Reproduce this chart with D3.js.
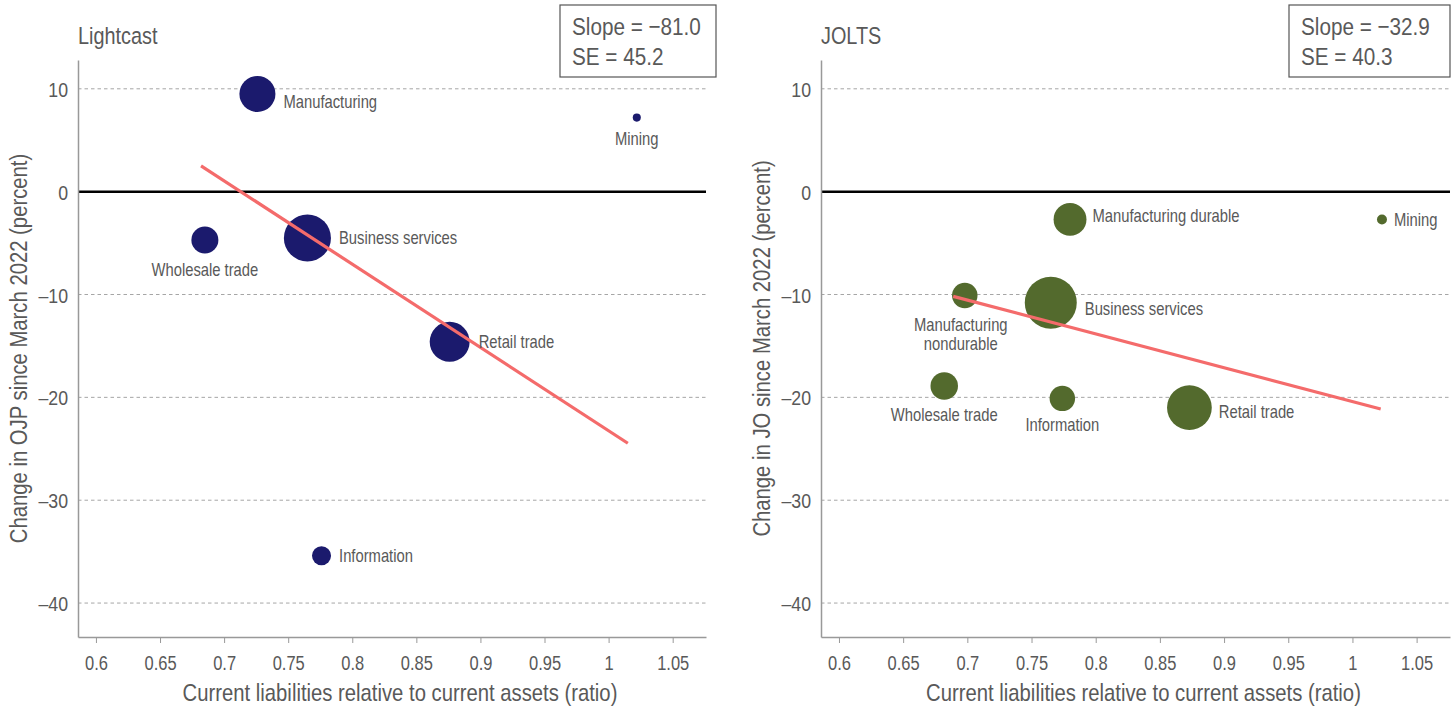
<!DOCTYPE html>
<html>
<head>
<meta charset="utf-8">
<script src="https://cdn.jsdelivr.net/npm/d3@7"></script>
<style>
  html, body { margin: 0; padding: 0; background: #fff; }
  svg { display: block; }
  text { font-family: "Liberation Sans", Arial, sans-serif; fill: #595959; }
</style>
</head>
<body>
<svg id="chart" width="1456" height="711"></svg>
<script>
// Shared axis ticks
const xTicks = [0.6, 0.65, 0.7, 0.75, 0.8, 0.85, 0.9, 0.95, 1, 1.05];
const yTicks = [10, 0, -10, -20, -30, -40];

// Lightcast: online job postings by sector
const lightcastSectors = ["Manufacturing", "Mining", "Wholesale trade", "Business services", "Retail trade", "Information"];
const lightcastRatio   = [0.726, 1.022, 0.685, 0.765, 0.876, 0.776];
const lightcastChange  = [9.5, 7.2, -4.7, -4.5, -14.6, -35.4];
const lightcastWeight  = [48, 2.4, 27, 82, 59, 13.4];

// JOLTS: job openings by sector
const joltsSectors = ["Manufacturing durable", "Mining", "Manufacturing nondurable", "Business services", "Wholesale trade", "Information", "Retail trade"];
const joltsRatio   = [0.780, 1.023, 0.698, 0.765, 0.682, 0.774, 0.873];
const joltsChange  = [-2.7, -2.7, -10.1, -10.8, -18.9, -20.1, -21.0];
const joltsWeight  = [40, 3.7, 24, 100, 28, 24, 74];

// Fitted lines: slope, standard error, intercept, x span
const lightcastFit = [-81.0, 45.2, 57.75];
const lightcastFitSpan = [0.682, 1.015];
const joltsFit = [-32.9, 40.3, 12.49];
const joltsFitSpan = [0.689, 1.022];

const xDomain = [0.586, 1.076];
const yDomain = [-43.3, 12.8];

// horizontal squeeze giving a narrow sans face
const NARROW = 0.845;

const svg = d3.select("#chart");
const rScale = d3.scaleSqrt().domain([0, 100]).range([0, 26]);
const fmtNum = d3.format(".1f");
const dash = s => s.replace("-", "\u2013");

// Narrow text placed at (x, y) with an optional extra rotation
function ntext(parent, x, y, str, size, opts = {}) {
  const g = parent.append("g").attr("transform", `translate(${x},${y})${opts.rotate ? ` rotate(${opts.rotate})` : ""}`);
  const t = g.append("text")
    .attr("transform", `scale(${NARROW},1)`)
    .attr("font-size", size)
    .attr("text-anchor", opts.anchor || "start")
    .attr("fill", opts.fill || "#595959");
  if (opts.baseline) t.attr("dominant-baseline", opts.baseline);
  const lines = Array.isArray(str) ? str : [str];
  lines.forEach((ln, k) => t.append("tspan").attr("x", 0).attr("dy", k === 0 ? 0 : (opts.lineHeight || size * 1.15)).text(ln));
  return t;
}

function panel(o) {
  const { left, right, top, bottom } = o;
  const x = d3.scaleLinear().domain(xDomain).range([left, right]);
  const y = d3.scaleLinear().domain(yDomain).range([bottom, top]);
  const g = svg.append("g");

  // dashed gridlines
  g.append("g").selectAll("line")
    .data(yTicks.filter(d => d !== 0))
    .join("line")
    .attr("x1", left).attr("x2", right)
    .attr("y1", d => y(d)).attr("y2", d => y(d))
    .attr("stroke", "#a6a6a6").attr("stroke-width", 1)
    .attr("stroke-dasharray", "3.5,3");

  // zero reference line
  g.append("line")
    .attr("x1", left).attr("x2", right)
    .attr("y1", y(0)).attr("y2", y(0))
    .attr("stroke", "#000").attr("stroke-width", 2.5);

  // x axis
  const xa = g.append("g").attr("transform", `translate(0,${bottom})`)
    .call(d3.axisBottom(x).tickValues(xTicks).tickFormat(d => String(d)).tickSizeOuter(0).tickSizeInner(6));
  xa.select(".domain").attr("stroke", "#999").attr("stroke-width", 1.5);
  xa.selectAll(".tick line").attr("stroke", "#999");
  xa.selectAll(".tick").each(function (d) {
    const tk = d3.select(this);
    tk.select("text").remove();
    ntext(tk, 0, 33, String(d), 19.5, { anchor: "middle", fill: "#4d4d4d" });
  });

  // y axis
  const ya = g.append("g").attr("transform", `translate(${left},0)`)
    .call(d3.axisLeft(y).tickValues(yTicks).tickSize(0));
  ya.select(".domain").attr("stroke", "#999").attr("stroke-width", 1.5);
  ya.selectAll(".tick").each(function (d) {
    const tk = d3.select(this);
    tk.select("text").remove();
    ntext(tk, -10, 0, d < 0 ? "\u2013" + Math.abs(d) : String(d), 21, { anchor: "end", baseline: "central", fill: "#4d4d4d" });
  });

  // titles
  ntext(g, left, 44, o.title, 23.5, { fill: "#4d4d4d" });
  ntext(g, left - 60, (top + bottom) / 2, o.yTitle, 24, { anchor: "middle", baseline: "central", rotate: -90 });
  ntext(g, (left + right) / 2 + 8, 701, "Current liabilities relative to current assets (ratio)", 24, { anchor: "middle" });

  // bubbles
  const pts = o.sectors.map((s, i) => ({ name: s, x: o.ratio[i], y: o.change[i], w: o.weight[i] }));
  g.append("g").selectAll("circle").data(pts).join("circle")
    .attr("cx", d => x(d.x)).attr("cy", d => y(d.y)).attr("r", d => rScale(d.w))
    .attr("fill", o.color);

  // fitted line
  const [slope, se, icpt] = o.fit;
  g.append("line")
    .attr("x1", x(o.span[0])).attr("y1", y(icpt + slope * o.span[0]))
    .attr("x2", x(o.span[1])).attr("y2", y(icpt + slope * o.span[1]))
    .attr("stroke", "#f46b6b").attr("stroke-width", 3.2);

  // bubble labels
  pts.forEach(d => {
    const p = o.labelPos[d.name];
    const r = rScale(d.w);
    const cx = x(d.x), cy = y(d.y);
    const str = p.lines || d.name;
    if (p.side === "right") {
      ntext(g, cx + r + p.dx, cy + p.dy, str, 17.5, { baseline: "central" });
    } else {
      ntext(g, cx + (p.dx || 0), cy + r + p.dy, str, 17.5, { anchor: "middle", baseline: "central", lineHeight: 19 });
    }
  });

  // statistics box
  const b = o.box;
  g.append("rect").attr("x", b[0]).attr("y", b[1]).attr("width", b[2]).attr("height", b[3])
    .attr("fill", "#fff").attr("stroke", "#555").attr("stroke-width", 1.2);
  ntext(g, b[0] + 12, b[1] + 30, "Slope = " + dash(fmtNum(slope)), 24.5, { fill: "#4d4d4d" });
  ntext(g, b[0] + 12, b[1] + 60, "SE = " + fmtNum(se), 24.5, { fill: "#4d4d4d" });
}

panel({
  left: 78, right: 706, top: 60, bottom: 637,
  title: "Lightcast",
  yTitle: "Change in OJP since March 2022 (percent)",
  sectors: lightcastSectors, ratio: lightcastRatio, change: lightcastChange, weight: lightcastWeight,
  fit: lightcastFit, span: lightcastFitSpan, color: "#1b1a6d",
  box: [560, 5, 156, 72],
  labelPos: {
    "Manufacturing": { side: "right", dx: 8, dy: 8 },
    "Mining": { side: "below", dy: 17 },
    "Wholesale trade": { side: "below", dy: 16 },
    "Business services": { side: "right", dx: 8, dy: 0 },
    "Retail trade": { side: "right", dx: 9, dy: 0 },
    "Information": { side: "right", dx: 8, dy: 0 }
  }
});

panel({
  left: 821, right: 1450, top: 60, bottom: 637,
  title: "JOLTS",
  yTitle: "Change in JO since March 2022 (percent)",
  sectors: joltsSectors, ratio: joltsRatio, change: joltsChange, weight: joltsWeight,
  fit: joltsFit, span: joltsFitSpan, color: "#536a2d",
  box: [1289, 5, 161, 72],
  labelPos: {
    "Manufacturing durable": { side: "right", dx: 6, dy: -4 },
    "Mining": { side: "right", dx: 7, dy: 0 },
    "Manufacturing nondurable": { side: "below", dx: -4, dy: 16, lines: ["Manufacturing", "nondurable"] },
    "Business services": { side: "right", dx: 8, dy: 6 },
    "Wholesale trade": { side: "below", dy: 15 },
    "Information": { side: "below", dy: 13 },
    "Retail trade": { side: "right", dx: 7, dy: 4 }
  }
});
</script>
</body>
</html>
